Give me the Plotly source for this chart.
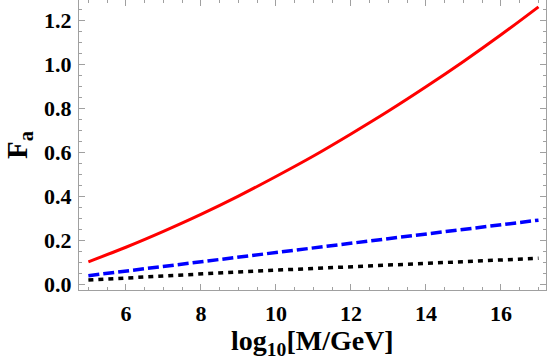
import plotly.graph_objects as go

log_mass = [5, 6, 7, 8, 9, 10, 11, 12, 13, 14, 15, 16, 17]
red_solid = [0.103, 0.169, 0.241, 0.318, 0.401, 0.490, 0.583, 0.683, 0.787, 0.897, 1.012, 1.133, 1.260]
blue_dashed = [0.040, 0.061, 0.082, 0.103, 0.124, 0.145, 0.166, 0.187, 0.208, 0.229, 0.250, 0.271, 0.292]
black_dotted = [0.020, 0.030, 0.039, 0.048, 0.057, 0.065, 0.073, 0.081, 0.089, 0.096, 0.103, 0.111, 0.119]

x_ticks = [6, 8, 10, 12, 14, 16]
y_ticks = [0.0, 0.2, 0.4, 0.6, 0.8, 1.0, 1.2]

fig = go.Figure()
fig.add_trace(go.Scatter(x=log_mass, y=red_solid, mode="lines",
                         line=dict(color="#ff0000", width=3, shape="spline")))
fig.add_trace(go.Scatter(x=log_mass, y=blue_dashed, mode="lines",
                         line=dict(color="#0000ff", width=3.5, dash="11px,4px")))
fig.add_trace(go.Scatter(x=log_mass, y=black_dotted, mode="lines",
                         line=dict(color="#000000", width=3.5, dash="5px,5px")))

font = dict(family="Liberation Serif, Times New Roman, serif", color="black")
axis_common = dict(
    showline=True, linecolor="#a0a0a0", linewidth=1, mirror="allticks",
    ticks="inside", ticklen=6, tickcolor="#a0a0a0", tickwidth=1,
    showgrid=False, zeroline=False, automargin=False,
    tickfont=dict(size=22, **font),
)

fig.update_layout(
    width=550, height=364,
    margin=dict(l=79, r=4, t=0, b=74),
    paper_bgcolor="white", plot_bgcolor="white",
    showlegend=False,
    font=font,
    xaxis=dict(range=[4.75, 17.2], tickvals=x_ticks,
               ticktext=[f"<b>{v}</b>" for v in x_ticks],
               minor=dict(dtick=0.5, tick0=5, ticklen=3, tickcolor="#a0a0a0", ticks="inside"),
               ticklabelstandoff=4,
               **axis_common),
    yaxis=dict(range=[-0.025, 1.291], tickvals=y_ticks,
               ticktext=[f"<b>{v:.1f}</b>" for v in y_ticks],
               minor=dict(dtick=0.05, tick0=0, ticklen=3, tickcolor="#a0a0a0", ticks="inside"),
               ticklabelstandoff=2,
               **axis_common),
    annotations=[
        dict(text="<b>log<sub>10</sub>[M/GeV]</b>", xref="paper", yref="paper",
             x=0.5, y=0, xanchor="center", yanchor="middle", yshift=-52,
             showarrow=False, font=dict(size=28, **font)),
        dict(text="<b>F<sub>a</sub></b>", xref="paper", yref="paper",
             x=0, y=0.5, xanchor="center", yanchor="middle", xshift=-60,
             textangle=-90, showarrow=False, font=dict(size=29, **font)),
    ],
)

fig.write_html("out.html", config={"displayModeBar": False},
               post_script="document.body.style.margin='0';")
